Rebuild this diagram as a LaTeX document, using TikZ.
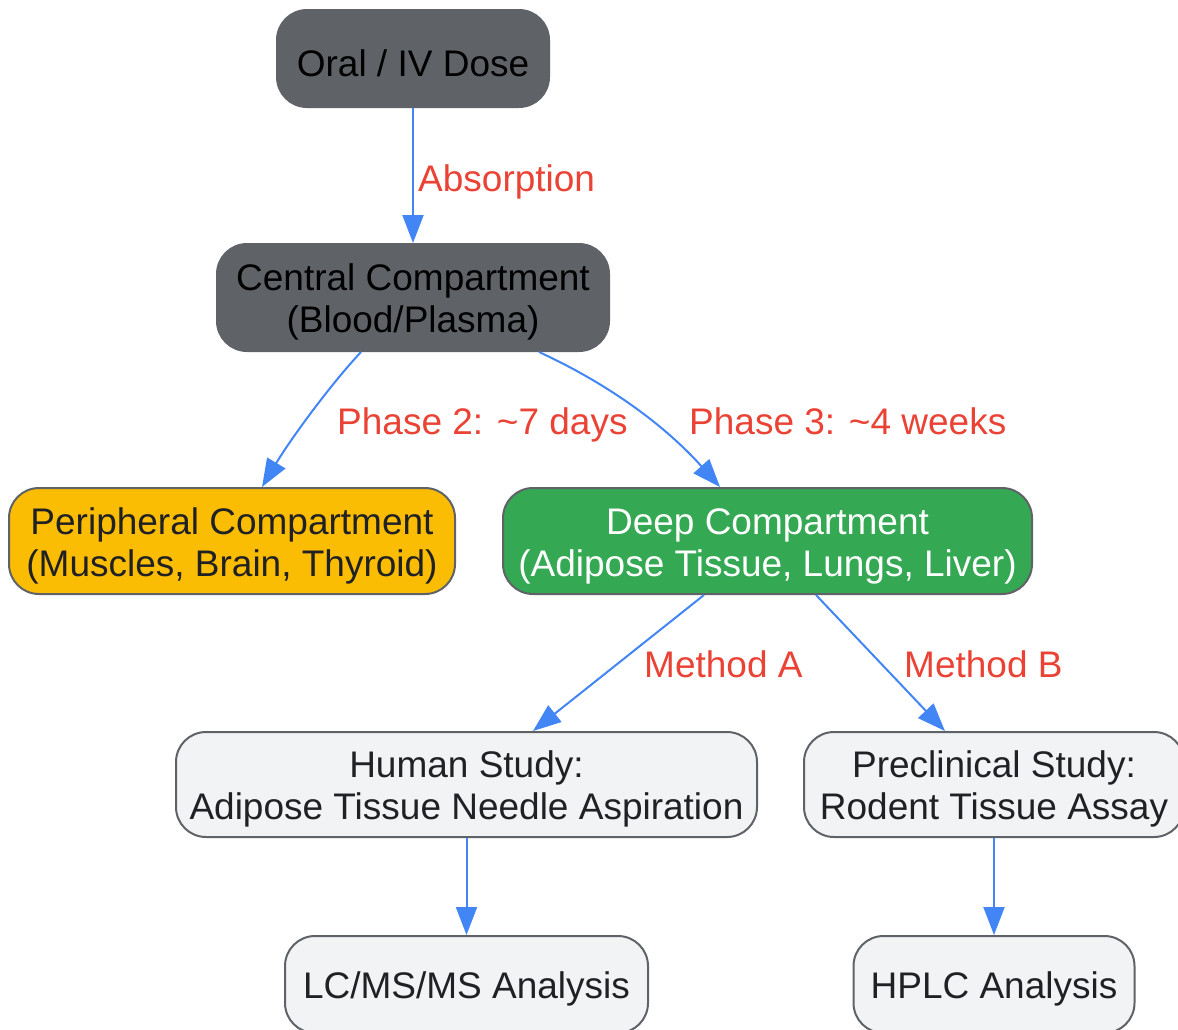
\documentclass[tikz,border=0pt]{standalone}
\usepackage{fontspec}
\setmainfont{Liberation Sans}
\usetikzlibrary{arrows.meta}
\definecolor{darkg}{HTML}{5F6368}
\definecolor{bordg}{HTML}{5F6368}
\definecolor{yel}{HTML}{FBBC04}
\definecolor{grn}{HTML}{34A853}
\definecolor{lite}{HTML}{F1F3F4}
\definecolor{txt}{HTML}{202124}
\definecolor{edgeblue}{HTML}{4285F4}
\definecolor{lblred}{HTML}{EA4335}
\newcommand{\topstrut}{\rule{0pt}{36.5pt}}
\tikzset{
  x=1pt, y=1pt,
  box/.style={draw=bordg, line width=2pt, rounded corners=30pt, inner sep=0pt, align=center,
    font=\fontsize{37}{42}\selectfont},
  darkbox/.style={box, fill=darkg, text=black},
  yelbox/.style={box, fill=yel, text=txt},
  grnbox/.style={box, fill=grn, text=white},
  litebox/.style={box, fill=lite, text=txt},
  conn/.style={draw=edgeblue, line width=2pt, -{Triangle[length=28pt, width=21pt]}},
  lbl/.style={text=lblred, anchor=base west, inner sep=0pt, font=\fontsize{37}{42}\selectfont}
}
\begin{document}
\begin{tikzpicture}
\useasboundingbox (0,0) rectangle (1178,-1029);
\clip (0,0) rectangle (1178,-1029);
\node[darkbox, minimum width=272pt, minimum height=97pt] (dose) at (413,-58.5) {\topstrut Oral / IV Dose};
\node[darkbox, minimum width=392pt, minimum height=107pt] (central) at (413,-297.5) {\topstrut Central Compartment\\(Blood/Plasma)};
\node[yelbox, minimum width=446pt, minimum height=106pt] (periph) at (232,-541) {\topstrut Peripheral Compartment\\(Muscles, Brain, Thyroid)};
\node[grnbox, minimum width=529pt, minimum height=106pt] (deep) at (767.5,-541) {\topstrut Deep Compartment\\(Adipose Tissue, Lungs, Liver)};
\node[litebox, minimum width=581pt, minimum height=105pt] (human) at (466.5,-784.5) {\topstrut Human Study:\\Adipose Tissue Needle Aspiration};
\node[litebox, minimum width=380pt, minimum height=105pt] (precl) at (994,-784.5) {\topstrut Preclinical Study:\\Rodent Tissue Assay};
\node[litebox, minimum width=363pt, minimum height=97pt] (lcms) at (466.5,-984.5) {\topstrut LC/MS/MS Analysis};
\node[litebox, minimum width=281pt, minimum height=97pt] (hplc) at (994,-984.5) {\topstrut HPLC Analysis};

\draw[conn] (dose.south) -- (central.north);
\draw[conn] ([xshift=-52pt]central.south) .. controls (330,-385) and (290,-440) .. ([xshift=30pt]periph.north);
\draw[conn] ([xshift=126pt]central.south) .. controls (600,-380) and (660,-420) .. ([xshift=-47.5pt]deep.north);
\draw[conn] ([xshift=-63.5pt]deep.south) -- ([xshift=66.5pt]human.north);
\draw[conn] ([xshift=48.5pt]deep.south) -- ([xshift=-49pt]precl.north);
\draw[conn] (human.south) -- (lcms.north);
\draw[conn] (precl.south) -- (hplc.north);

\node[lbl] (l1) at (418,-191) {Absorption};
\node[lbl] (l2) at (337,-434) {Phase 2: \textasciitilde 7 days};
\node[lbl] (l3) at (689,-434) {Phase 3: \textasciitilde 4 weeks};
\node[lbl] (l4) at (644,-677) {Method A};
\node[lbl] (l5) at (904,-677) {Method B};
\end{tikzpicture}
\end{document}
